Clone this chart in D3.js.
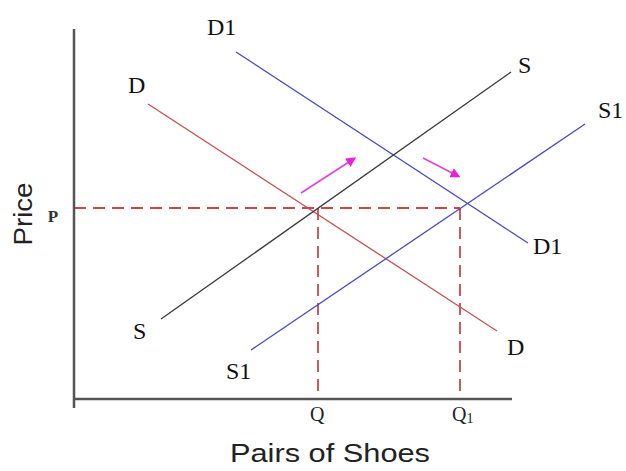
<!DOCTYPE html>
<html>
<head>
<meta charset="utf-8">
<script src="https://cdn.jsdelivr.net/npm/d3@7"></script>
<style>
  html, body { margin: 0; padding: 0; background: #fff; }
  svg { display: block; }
</style>
</head>
<body>
<div id="chart"></div>
<script>
// curve endpoints, in quantity / price units
const curveNames = ["D", "D1", "S", "S1"];
const curveStart = [[14.8, 59], [32.4, 69.4], [17.4, 16], [35.4, 9.8]];
const curveEnd = [[84.6, 13.6], [90.8, 31.2], [87.4, 65.4], [102.2, 55]];

// equilibrium levels
const priceLevel = 38.2;
const quantityLevels = [48.8, 77.2];
const quantityLabels = ["Q", "Q1"];
const priceLabel = "P";

// shift arrows [from, to]
const arrowFrom = [[45.4, 41.2], [69.8, 48.2]];
const arrowTo = [[55.6, 47.8], [76.4, 44.8]];

// curve labels: [text, x, y] (baseline position in units)
const labelText = ["D1", "D", "S", "S1", "D1", "D", "S", "S1"];
const labelPos = [[26.6, 72.8], [10.8, 61.2], [88.8, 65.2], [104.8, 56.2],
                  [91.8, 29], [86.6, 8.8], [11.8, 12], [30.4, 4]];

const width = 626, height = 471;

const x = d3.scaleLinear().domain([0, 100]).range([74, 574]);
const y = d3.scaleLinear().domain([0, 74]).range([399, 29]);

const colors = { D: "#c85050", D1: "#4a4ac4", S: "#3a3a3a", S1: "#4a4ac4" };

const svg = d3.select("#chart").append("svg")
    .attr("width", width)
    .attr("height", height);

svg.append("defs").append("marker")
    .attr("id", "head")
    .attr("viewBox", "0 0 10 10")
    .attr("refX", 5)
    .attr("refY", 5)
    .attr("markerWidth", 10)
    .attr("markerHeight", 10)
    .attr("markerUnits", "userSpaceOnUse")
    .attr("orient", "auto")
    .append("path")
    .attr("d", "M0,0 L10,5 L0,10 z")
    .attr("fill", "#e822dc");

// dashed guides
const dashColor = "#c84848";
svg.append("line")
    .attr("x1", x(0)).attr("x2", x(quantityLevels[1]))
    .attr("y1", y(priceLevel)).attr("y2", y(priceLevel))
    .attr("stroke", dashColor).attr("stroke-width", 1.8)
    .attr("stroke-dasharray", "12,7");

svg.selectAll(".vguide")
    .data(quantityLevels)
    .enter().append("line")
    .attr("class", "vguide")
    .attr("x1", d => x(d)).attr("x2", d => x(d))
    .attr("y1", y(priceLevel)).attr("y2", y(0))
    .attr("stroke", dashColor).attr("stroke-width", 1.8)
    .attr("stroke-dasharray", "12,7");

// curves
svg.selectAll(".curve")
    .data(curveNames)
    .enter().append("line")
    .attr("class", "curve")
    .attr("x1", (d, i) => x(curveStart[i][0]))
    .attr("y1", (d, i) => y(curveStart[i][1]))
    .attr("x2", (d, i) => x(curveEnd[i][0]))
    .attr("y2", (d, i) => y(curveEnd[i][1]))
    .attr("stroke", d => colors[d])
    .attr("stroke-width", 1.3);

// shift arrows
svg.selectAll(".arrow")
    .data(arrowFrom)
    .enter().append("line")
    .attr("class", "arrow")
    .attr("x1", d => x(d[0])).attr("y1", d => y(d[1]))
    .attr("x2", (d, i) => x(arrowTo[i][0])).attr("y2", (d, i) => y(arrowTo[i][1]))
    .attr("stroke", "#e040dc").attr("stroke-width", 1.5)
    .attr("marker-end", "url(#head)");

// axes
svg.append("line")
    .attr("x1", x(0)).attr("x2", x(0))
    .attr("y1", y(74)).attr("y2", y(-1.8))
    .attr("stroke", "#555").attr("stroke-width", 2.5);
svg.append("line")
    .attr("x1", x(0)).attr("x2", x(87.6))
    .attr("y1", y(0)).attr("y2", y(0))
    .attr("stroke", "#555").attr("stroke-width", 2.5);

// curve labels
svg.selectAll(".clabel")
    .data(labelText)
    .enter().append("text")
    .attr("class", "clabel")
    .attr("x", (d, i) => x(labelPos[i][0]))
    .attr("y", (d, i) => y(labelPos[i][1]))
    .style("font-family", "'Liberation Serif', 'DejaVu Serif', serif")
    .style("font-size", "24px")
    .style("fill", "#111")
    .text(d => d);

// P and Q labels
svg.append("text")
    .attr("x", x(0) - 21)
    .attr("y", y(priceLevel) + 14)
    .attr("text-anchor", "middle")
    .style("font-family", "'Liberation Serif', serif")
    .style("font-weight", "bold")
    .style("font-size", "17px")
    .style("fill", "#333")
    .text(priceLabel);

const qText = svg.selectAll(".qlabel")
    .data(quantityLabels)
    .enter().append("text")
    .attr("class", "qlabel")
    .attr("x", (d, i) => x(quantityLevels[i]) - 8)
    .attr("y", y(0) + 22)
    .style("font-family", "'Liberation Serif', serif")
    .style("font-size", "20px")
    .style("fill", "#222");
qText.append("tspan").text(d => d[0]);
qText.append("tspan")
    .style("font-size", "14px")
    .attr("dy", 2)
    .text(d => d.slice(1));

// axis titles
svg.append("text")
    .attr("x", 330)
    .attr("y", 462)
    .attr("text-anchor", "middle")
    .attr("textLength", 200)
    .attr("lengthAdjust", "spacingAndGlyphs")
    .style("font-family", "'Liberation Sans', Arial, sans-serif")
    .style("font-size", "25px")
    .style("fill", "#222")
    .text("Pairs of Shoes");

svg.append("text")
    .attr("transform", "translate(32,214) rotate(-90)")
    .attr("text-anchor", "middle")
    .attr("textLength", 63)
    .attr("lengthAdjust", "spacingAndGlyphs")
    .style("font-family", "'Liberation Sans', Arial, sans-serif")
    .style("font-size", "26px")
    .style("fill", "#222")
    .text("Price");
</script>
</body>
</html>
